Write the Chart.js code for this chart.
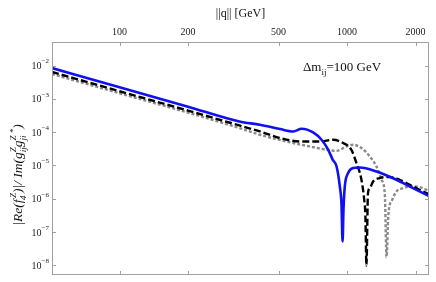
<!DOCTYPE html>
<html><head><meta charset="utf-8">
<script src="https://cdn.jsdelivr.net/npm/chart.js@4/dist/chart.umd.min.js"></script>
<style>html,body{margin:0;padding:0;background:#fff}#wrap{width:436px;height:282px;position:relative}</style>
</head><body><div id="wrap"><canvas id="c"></canvas></div>
<script>
// x: ||q|| [GeV]; y: |Re(f4Z)| / Im(gZ gZ*)
const xTicks = [100, 200, 500, 1000, 2000];
const yDecades = [-8, -7, -6, -5, -4, -3, -2];

const qBlue = [50.5, 100, 200, 336, 414, 507, 580, 631, 709, 772, 826, 865, 899, 929, 945, 955, 964, 977, 1010, 1062, 1137, 1346, 1648, 1947, 2307];
const vBlue = [8.41e-3, 2.23e-3, 5.83e-4, 2.09e-4, 1.67e-4, 1.24e-4, 1.05e-4, 1.26e-4, 9.8e-5, 5.9e-5, 2.96e-5, 1.48e-5, 9.3e-6, 2.34e-6, 6.6e-7, 5.2e-8, 4.68e-7, 2.34e-6, 5.9e-6, 8.35e-6, 8.7e-6, 6.6e-6, 3.72e-6, 2.09e-6, 1.17e-6];

const qBlack = [50.5, 100, 200, 336, 414, 507, 620, 759, 868, 960, 1044, 1099, 1156, 1189, 1203, 1216, 1235, 1258, 1301, 1391, 1539, 1702, 1947, 2307];
const vBlack = [6.38e-3, 1.69e-3, 4.43e-4, 1.59e-4, 1.05e-4, 6.65e-5, 5.26e-5, 5.26e-5, 5.91e-5, 4.71e-5, 2.96e-5, 1.18e-5, 3.72e-6, 9.3e-7, 3.2e-7, 9.9e-9, 1.48e-6, 2.09e-6, 3.31e-6, 4.19e-6, 4.49e-6, 3.72e-6, 2.34e-6, 1.32e-6];

const qGray = [50.5, 100, 200, 336, 414, 580, 686, 812, 899, 993, 1062, 1156, 1258, 1346, 1416, 1465, 1490, 1518, 1578, 1648, 1762, 1916, 2084, 2307];
const vGray = [5.56e-3, 1.47e-3, 3.85e-4, 1.33e-4, 8.36e-5, 4.71e-5, 3.72e-5, 2.96e-5, 2.76e-5, 3.72e-5, 4.19e-5, 3.33e-5, 1.86e-5, 9.3e-6, 3.72e-6, 1.32e-6, 1.77e-8, 3.3e-7, 9.3e-7, 1.66e-6, 2.09e-6, 2.34e-6, 2.24e-6, 1.66e-6];

const pts = (q, v) => q.map((x, i) => ({x: x, y: v[i]}));
const SERIF = '"Liberation Serif", "DejaVu Serif", serif';

function drawRich(ctx, parts, x, y, size) {
  let cx = x;
  for (const p of parts) {
    ctx.font = (p.italic ? 'italic ' : '') + size + 'px ' + SERIF;
    ctx.fillText(p.t, cx, y);
    cx += ctx.measureText(p.t).width + (p.gap || 0);
    let w = 0;
    const s = Math.round(size * 0.7);
    if (p.sup) { ctx.font = (p.italic ? 'italic ' : '') + s + 'px ' + SERIF; ctx.fillText(p.sup, cx, y - size * 0.42); w = Math.max(w, ctx.measureText(p.sup).width); }
    if (p.sub) { ctx.font = (p.italic ? 'italic ' : '') + s + 'px ' + SERIF; ctx.fillText(p.sub, cx - (p.subShift || 0), y + size * 0.28); w = Math.max(w, ctx.measureText(p.sub).width); }
    cx += w;
  }
  return cx - x;
}
function measureRich(ctx, parts, size) {
  let w = 0;
  for (const p of parts) {
    ctx.font = (p.italic ? 'italic ' : '') + size + 'px ' + SERIF;
    w += ctx.measureText(p.t).width + (p.gap || 0);
    const s = Math.round(size * 0.7);
    ctx.font = (p.italic ? 'italic ' : '') + s + 'px ' + SERIF;
    w += Math.max(p.sup ? ctx.measureText(p.sup).width : 0, p.sub ? ctx.measureText(p.sub).width : 0);
  }
  return w;
}

const framePlugin = {
  id: 'frame',
  afterDraw(chart) {
    const ctx = chart.ctx, a = chart.chartArea;
    const xs = chart.scales.x, ys = chart.scales.y;
    ctx.save();
    ctx.strokeStyle = '#a0a0a0';
    ctx.lineWidth = 1;
    ctx.strokeRect(a.left + 0.5, a.top + 0.5, a.right - a.left - 1, a.bottom - a.top - 1);
    ctx.beginPath();
    for (const v of xTicks) {
      const px = Math.round(xs.getPixelForValue(v)) + 0.5;
      ctx.moveTo(px, a.top); ctx.lineTo(px, a.top + 4);
      ctx.moveTo(px, a.bottom); ctx.lineTo(px, a.bottom - 4);
    }
    for (const k of yDecades) {
      const py = Math.round(ys.getPixelForValue(Math.pow(10, k))) + 0.5;
      ctx.moveTo(a.left, py); ctx.lineTo(a.left + 4, py);
      ctx.moveTo(a.right, py); ctx.lineTo(a.right - 4, py);
    }
    ctx.stroke();
    // y tick labels
    ctx.fillStyle = '#222';
    ctx.textBaseline = 'middle';
    for (const k of yDecades) {
      const py = ys.getPixelForValue(Math.pow(10, k));
      ctx.font = '7px ' + SERIF;
      const sup = '\u2212' + Math.abs(k);
      const ws = ctx.measureText(sup).width;
      ctx.textAlign = 'left';
      const right = a.left - 3;
      ctx.fillText(sup, right - ws, py - 4);
      ctx.font = '10px ' + SERIF;
      const wb = ctx.measureText('10').width;
      ctx.fillText('10', right - ws - wb, py + 1);
    }
    // x title
    ctx.textAlign = 'center';
    ctx.textBaseline = 'alphabetic';
    ctx.font = '12px ' + SERIF;
    ctx.fillStyle = '#111';
    ctx.fillText('||q|| [GeV]', (a.left + a.right) / 2, 17);
    // annotation
    ctx.textAlign = 'left';
    drawRich(ctx, [{t: '\u0394m', sub: 'ij'}, {t: '=100 GeV'}], 303, 71, 13);
    // y title
    const parts = [
      {t: '|Re(', italic: true}, {t: 'f', italic: true, sup: 'Z', sub: '4', gap: 1.5, subShift: 2},
      {t: ')|/ Im(', italic: true}, {t: 'g', italic: true, sup: 'Z', sub: 'ij'},
      {t: 'g', italic: true, sup: 'Z *', sub: 'ji'}, {t: ')', italic: true}
    ];
    const size = 13.5;
    const w = measureRich(ctx, parts, size);
    ctx.translate(22, 175);
    ctx.rotate(-Math.PI / 2);
    drawRich(ctx, parts, -w / 2, 0, size);
    ctx.restore();
  }
};

new Chart(document.getElementById('c'), {
  type: 'line',
  data: {
    datasets: [
      {data: pts(qBlue, vBlue), borderColor: '#1010f0', borderWidth: 2.6, order: 0},
      {data: pts(qBlack, vBlack), borderColor: '#000', borderWidth: 2.4, borderDash: [7, 3], order: 1},
      {data: pts(qGray, vGray), borderColor: '#8a8a8a', borderWidth: 2.4, borderDash: [3, 2], order: 2}
    ]
  },
  options: {
    responsive: true, maintainAspectRatio: false, animation: false, devicePixelRatio: 1,
    layout: {padding: {left: 0, right: 7, top: 0, bottom: 7}},
    elements: {point: {radius: 0}, line: {cubicInterpolationMode: 'monotone', borderCapStyle: 'butt', fill: false}},
    plugins: {legend: {display: false}, tooltip: {enabled: false}},
    scales: {
      x: {
        type: 'logarithmic', position: 'top', min: 50.5, max: 2290,
        afterBuildTicks: s => { s.ticks = xTicks.map(v => ({value: v})); },
        afterFit: s => { s.height = 42; },
        grid: {display: false, drawTicks: false}, border: {display: false},
        ticks: {padding: 4, color: '#222', font: {family: SERIF, size: 10}, callback: v => String(v), maxRotation: 0, autoSkip: false}
      },
      y: {
        type: 'logarithmic', min: Math.pow(10, -8.288), max: Math.pow(10, -1.294),
        afterBuildTicks: s => { s.ticks = yDecades.map(k => ({value: Math.pow(10, k)})); },
        afterFit: s => { s.width = 52; },
        grid: {display: false, drawTicks: false}, border: {display: false},
        ticks: {display: false}
      }
    }
  },
  plugins: [framePlugin]
});
</script></body></html>
